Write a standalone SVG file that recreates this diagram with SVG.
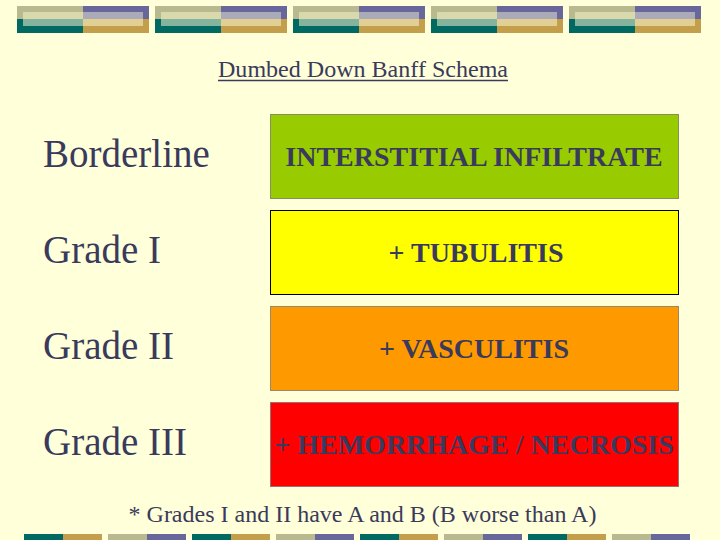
<svg xmlns="http://www.w3.org/2000/svg" width="720" height="540" viewBox="0 0 720 540">
<defs>
<style>
.lbl{font-family:"Liberation Serif","Times New Roman",serif;font-size:39px;fill:#3a3a5c}
.box{font-family:"Liberation Serif","Times New Roman",serif;font-size:28px;font-weight:bold;fill:#3a3a5c;text-anchor:middle}
.note{font-family:"Liberation Serif","Times New Roman",serif;font-size:24px;fill:#3a3a5c;text-anchor:middle}
</style>
<g id="topunit">
<rect x="0" y="6" width="66" height="13" fill="#b9b98f"/>
<rect x="66" y="6" width="66" height="13" fill="#67679c"/>
<rect x="0" y="19" width="66" height="14" fill="#006a62"/>
<rect x="66" y="19" width="66" height="14" fill="#c39f4c"/>
<rect x="6" y="12" width="60" height="7" fill="#d9d9ad"/>
<rect x="66" y="12" width="60" height="7" fill="#aaaab9"/>
<rect x="6" y="19" width="60" height="7" fill="#84b49d"/>
<rect x="66" y="19" width="60" height="7" fill="#e2cf94"/>
</g>
<g id="botA">
<rect x="0" y="534" width="39" height="6" fill="#006a62"/>
<rect x="39" y="534" width="39" height="6" fill="#c39f4c"/>
</g>
<g id="botB">
<rect x="0" y="534" width="39" height="6" fill="#b9b98f"/>
<rect x="39" y="534" width="39" height="6" fill="#67679c"/>
</g>
</defs>
<rect width="720" height="540" fill="#ffffd9"/>
<g id="top-band">
<use href="#topunit" x="17"/>
<use href="#topunit" x="155"/>
<use href="#topunit" x="293"/>
<use href="#topunit" x="431"/>
<use href="#topunit" x="569"/>
</g>
<g id="bottom-band">
<use href="#botA" x="24"/>
<use href="#botB" x="108"/>
<use href="#botA" x="192"/>
<use href="#botB" x="276"/>
<use href="#botA" x="360"/>
<use href="#botB" x="444"/>
<use href="#botA" x="528"/>
<use href="#botB" x="612"/>
</g>
<g id="title">
<text x="363" y="77" font-family="'Liberation Serif','Times New Roman',serif" font-size="23" fill="#3a3a5c" text-anchor="middle" textLength="290" lengthAdjust="spacingAndGlyphs">Dumbed Down Banff Schema</text>
<line x1="218" y1="80.5" x2="508" y2="80.5" stroke="#3a3a5c" stroke-width="1.5"/>
</g>
<g id="label-borderline"><text class="lbl" x="43" y="167">Borderline</text></g>
<g id="label-grade1"><text class="lbl" x="43" y="263">Grade I</text></g>
<g id="label-grade2"><text class="lbl" x="43" y="359">Grade II</text></g>
<g id="label-grade3"><text class="lbl" x="43" y="455">Grade III</text></g>
<g id="box-interstitial">
<rect x="270.5" y="114.5" width="408" height="84" fill="#99cc00" stroke="#86905a" stroke-width="1"/>
<text class="box" x="474" y="165.5">INTERSTITIAL INFILTRATE</text>
</g>
<g id="box-tubulitis">
<rect x="270.5" y="210.5" width="408" height="84" fill="#ffff00" stroke="#000000" stroke-width="1"/>
<text class="box" x="476" y="261.5">+ TUBULITIS</text>
</g>
<g id="box-vasculitis">
<rect x="270.5" y="306.5" width="408" height="84" fill="#ff9900" stroke="#9a8866" stroke-width="1"/>
<text class="box" x="474" y="357.5">+ VASCULITIS</text>
</g>
<g id="box-hemorrhage">
<rect x="270.5" y="402.5" width="408" height="84" fill="#ff0000" stroke="#9a7070" stroke-width="1"/>
<text class="box" x="474" y="453.5" fill="#55407a">+ HEMORRHAGE / NECROSIS</text>
</g>
<g id="footnote"><text class="note" x="362.5" y="522">* Grades I and II have A and B (B worse than A)</text></g>
<g id="connectors"/>
</svg>
